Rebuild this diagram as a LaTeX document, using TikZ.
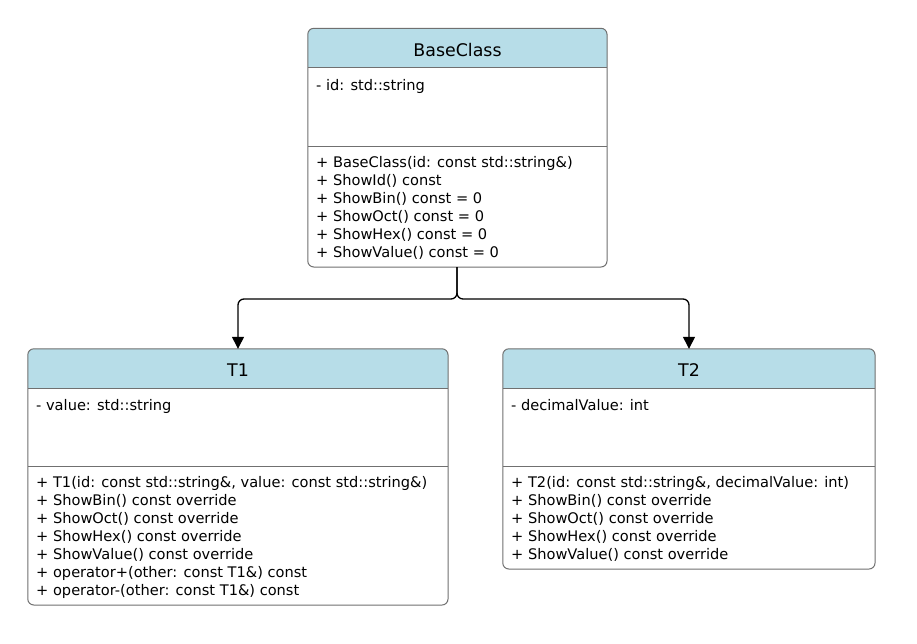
\documentclass[tikz,border=0pt]{standalone}
\usepackage{fontspec}
\setmainfont{DejaVu Sans}
\usetikzlibrary{arrows.meta,backgrounds}
\definecolor{headblue}{RGB}{183,221,232}
\definecolor{boxgray}{RGB}{112,112,112}
\tikzset{
  classhead/.style={minimum height=39pt, inner sep=0pt, text height=16pt, text depth=0pt, font=\fontsize{17.4}{20}\selectfont},
  members/.style={anchor=north west, inner sep=0pt, align=left, font=\fontsize{14.6}{18}\selectfont},
  classbox/.style={draw=boxgray, line width=1pt, rounded corners=6pt},
  sepline/.style={draw=boxgray, line width=1pt},
  inherit/.style={draw=black, line width=1.3pt, rounded corners=6pt, -{Triangle[width=12pt,length=12pt]}}
}
\begin{document}
\begin{tikzpicture}[x=1pt,y=-1pt]
\useasboundingbox (0,0) rectangle (917,643);
% BaseClass
\node[classhead, minimum width=299pt] (base) at (457.5,48) {BaseClass};
\node[members] (base-attr) at (316,79) {- id: std::string};
\node[members] (base-ops) at (316,156) {+ BaseClass(id: const std::string\&)\\
  + ShowId() const\\
  + ShowBin() const = 0\\
  + ShowOct() const = 0\\
  + ShowHex() const = 0\\
  + ShowValue() const = 0};
\coordinate (base-sepw) at (308,146);
\coordinate (base-sepe) at (607,146);
\coordinate (base-se) at (607,267);
\coordinate (base-s) at (457,267);
% T1
\node[classhead, minimum width=420pt] (t1) at (238,368.5) {T1};
\node[members] (t1-attr) at (36,399) {- value: std::string};
\node[members] (t1-ops) at (36,476) {+ T1(id: const std::string\&, value: const std::string\&)\\
  + ShowBin() const override\\
  + ShowOct() const override\\
  + ShowHex() const override\\
  + ShowValue() const override\\
  + operator+(other: const T1\&) const\\
  + operator-(other: const T1\&) const};
\coordinate (t1-sepw) at (28,466);
\coordinate (t1-sepe) at (448,466);
\coordinate (t1-se) at (448,605);
% T2
\node[classhead, minimum width=372pt] (t2) at (689,368.5) {T2};
\node[members] (t2-attr) at (511,399) {- decimalValue: int};
\node[members] (t2-ops) at (511,476) {+ T2(id: const std::string\&, decimalValue: int)\\
  + ShowBin() const override\\
  + ShowOct() const override\\
  + ShowHex() const override\\
  + ShowValue() const override};
\coordinate (t2-sepw) at (503,466);
\coordinate (t2-sepe) at (875,466);
\coordinate (t2-se) at (875,569);
% boxes
\begin{pgfonlayer}{background}
\foreach \cls in {base,t1,t2}{
  \fill[white, rounded corners=6pt] (\cls.north west) rectangle (\cls-se);
  \fill[headblue, rounded corners=6pt] (\cls.north west) rectangle (\cls.south east);
  \fill[headblue] (\cls.west) rectangle (\cls.south east);
  \draw[classbox] (\cls.north west) rectangle (\cls-se);
  \draw[sepline] (\cls.south west) -- (\cls.south east);
  \draw[sepline] (\cls-sepw) -- (\cls-sepe);
}
\end{pgfonlayer}
% inheritance
\coordinate (fork) at (457,299);
\draw[inherit] (base-s) -- (fork) -| (t1.north);
\draw[inherit] (base-s) -- (fork) -| (t2.north);
\end{tikzpicture}
\end{document}
